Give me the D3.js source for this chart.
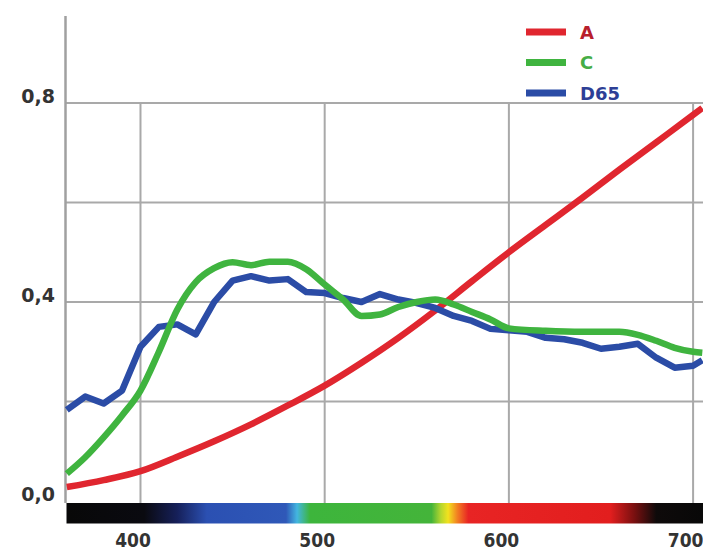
<!DOCTYPE html>
<html>
<head>
<meta charset="utf-8">
<script src="https://cdn.jsdelivr.net/npm/d3@7"></script>
<style>
  html, body { margin: 0; padding: 0; background: #ffffff; }
  svg { display: block; }
</style>
</head>
<body>
<svg id="chart" width="703" height="555"></svg>
<script>
// Relative spectral power of CIE illuminants A, C and D65 (wavelength in nm)
const wavelengthsA = [360, 380, 400, 420, 440, 460, 480, 500, 520, 540, 560, 580, 600, 620, 640, 660, 680, 700, 705];
const valuesA      = [0.028, 0.042, 0.060, 0.089, 0.120, 0.154, 0.192, 0.232, 0.278, 0.328, 0.383, 0.442, 0.500, 0.555, 0.610, 0.666, 0.721, 0.776, 0.790];

const wavelengthsC = [360, 370, 380, 390, 400, 410, 420, 430, 440, 450, 460, 470, 480, 490, 500, 510, 520, 530, 540, 550, 560, 570, 580, 590, 600, 620, 640, 660, 670, 680, 690, 700, 705];
const valuesC      = [0.055, 0.088, 0.128, 0.172, 0.222, 0.300, 0.385, 0.440, 0.468, 0.480, 0.474, 0.481, 0.481, 0.466, 0.435, 0.405, 0.372, 0.375, 0.390, 0.400, 0.405, 0.395, 0.380, 0.365, 0.347, 0.342, 0.340, 0.340, 0.334, 0.322, 0.308, 0.300, 0.298];

const wavelengthsD65 = [360, 370, 380, 390, 400, 410, 420, 430, 440, 450, 460, 470, 480, 490, 500, 510, 520, 530, 540, 550, 560, 570, 580, 590, 600, 610, 620, 630, 640, 650, 660, 670, 680, 690, 700, 705];
const valuesD65      = [0.183, 0.210, 0.196, 0.222, 0.310, 0.350, 0.355, 0.335, 0.400, 0.443, 0.452, 0.443, 0.446, 0.420, 0.418, 0.408, 0.400, 0.416, 0.405, 0.398, 0.388, 0.372, 0.362, 0.346, 0.343, 0.340, 0.328, 0.325, 0.318, 0.306, 0.310, 0.316, 0.288, 0.268, 0.272, 0.283];

const seriesNames  = ["A", "C", "D65"];
const seriesColors = ["#e0262f", "#3fb43f", "#2b4ca6"];
const legendText   = ["#b8202c", "#46ad46", "#2d3f96"];

const xTicks = [400, 500, 600, 700];
const yTicks = [0.0, 0.4, 0.8];
const yGrid  = [0.2, 0.4, 0.6, 0.8];

// Visible spectrum strip under the plot: [wavelength, colour]
const spectrumStops = [
  [360, "#080808"], [402, "#0a0a10"], [420, "#16205a"], [436, "#2b50b2"],
  [479, "#2f58b8"], [485, "#43b6e0"], [492, "#3db53c"], [558, "#44b43a"],
  [563, "#b4d62e"], [567, "#f2e21e"], [572, "#f28022"], [578, "#e82424"],
  [655, "#e21e1e"], [668, "#7a1010"], [680, "#0e0a0a"], [705, "#080808"]
];

const svg = d3.select("#chart");

const x = d3.scaleLinear().domain([360, 705]).range([66.8, 702.3]);
const y = d3.scaleLinear().domain([0, 0.8]).range([501, 103]);

const gridColor = "#a9a9a9";

// Horizontal grid lines
svg.append("g").selectAll("line").data(yGrid).join("line")
  .attr("x1", 65).attr("x2", 703)
  .attr("y1", d => y(d)).attr("y2", d => y(d))
  .attr("stroke", gridColor).attr("stroke-width", 2);

// Vertical grid lines
svg.append("g").selectAll("line").data(xTicks).join("line")
  .attr("x1", d => x(d)).attr("x2", d => x(d))
  .attr("y1", y(0.8)).attr("y2", 503)
  .attr("stroke", gridColor).attr("stroke-width", 2);

// Vertical axis line
svg.append("line")
  .attr("x1", 65.5).attr("x2", 65.5)
  .attr("y1", y(0.975)).attr("y2", 503)
  .attr("stroke", "#a0a0a0").attr("stroke-width", 2.5);

// Y axis labels
const yAxis = d3.axisLeft(y).tickValues(yTicks).tickSize(0).tickPadding(10)
  .tickFormat(d => d3.format(".1f")(d).replace(".", ","));
svg.append("g").attr("transform", "translate(65,0)").call(yAxis)
  .call(g => g.select(".domain").remove())
  .call(g => g.selectAll("text")
    .attr("dy", "-0.05em")
    .attr("fill", "#333")
    .attr("font-family", "'DejaVu Sans', sans-serif")
    .attr("font-weight", "bold")
    .attr("font-size", 19));

// Spectrum strip
const grad = svg.append("defs").append("linearGradient")
  .attr("id", "spectrum").attr("gradientUnits", "userSpaceOnUse")
  .attr("x1", x(360)).attr("x2", x(705)).attr("y1", 0).attr("y2", 0);
grad.selectAll("stop").data(spectrumStops).join("stop")
  .attr("offset", d => (d[0] - 360) / (705 - 360))
  .attr("stop-color", d => d[1]);
svg.append("rect")
  .attr("x", 66.5).attr("y", 503)
  .attr("width", 703 - 66.5).attr("height", 20.5)
  .attr("fill", "url(#spectrum)");

// X axis labels
const xAxis = d3.axisBottom(x).tickValues(xTicks).tickSize(0).tickPadding(0)
  .tickFormat(d3.format("d"));
svg.append("g").attr("transform", "translate(-8,533)").call(xAxis)
  .call(g => g.select(".domain").remove())
  .call(g => g.selectAll("text")
    .attr("dy", "0.75em")
    .attr("fill", "#333")
    .attr("font-family", "'DejaVu Sans Condensed', 'DejaVu Sans', sans-serif")
    .attr("font-stretch", "condensed")
    .attr("font-weight", "bold")
    .attr("font-size", 19));

// Curves
const plot = svg.append("g");
const series = [
  { name: "A", wl: wavelengthsA, v: valuesA, curve: d3.curveMonotoneX, color: seriesColors[0] },
  { name: "D65", wl: wavelengthsD65, v: valuesD65, curve: d3.curveLinear, color: seriesColors[2] },
  { name: "C", wl: wavelengthsC, v: valuesC, curve: d3.curveMonotoneX, color: seriesColors[1] }
];
series.forEach(s => {
  const pts = s.wl.map((w, i) => [w, s.v[i]]);
  const line = d3.line().x(d => x(d[0])).y(d => y(d[1])).curve(s.curve);
  plot.append("path")
    .datum(pts)
    .attr("d", line)
    .attr("fill", "none")
    .attr("stroke", s.color)
    .attr("stroke-width", 6.5)
    .attr("stroke-linejoin", "round")
    .attr("stroke-linecap", "butt");
});

// Legend
const legend = svg.append("g").attr("transform", "translate(526,32)");
const item = legend.selectAll("g").data(seriesNames).join("g")
  .attr("transform", (d, i) => `translate(0,${i * 30.5})`);
item.append("line")
  .attr("x1", 0).attr("x2", 40).attr("y1", 0).attr("y2", 0)
  .attr("stroke", (d, i) => seriesColors[i]).attr("stroke-width", 7);
item.append("text")
  .attr("x", 54).attr("y", 0).attr("dy", "0.38em")
  .attr("fill", (d, i) => legendText[i])
  .attr("font-family", "'DejaVu Sans', sans-serif")
  .attr("font-weight", "bold")
  .attr("font-size", 18)
  .text(d => d);
</script>
</body>
</html>
